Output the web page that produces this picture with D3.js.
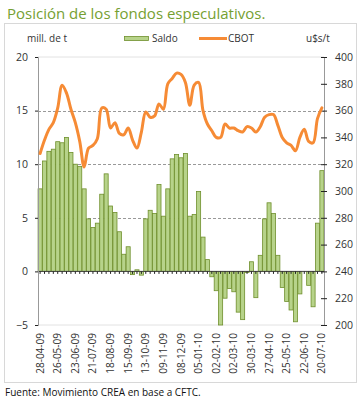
<!DOCTYPE html>
<html>
<head>
<meta charset="utf-8">
<script src="https://cdn.jsdelivr.net/npm/d3@7"></script>
<style>
  html, body { margin: 0; padding: 0; background: #fff; }
  svg { display: block; }
  text { font-family: "Open Sans", "DejaVu Sans", sans-serif; }
</style>
</head>
<body>
<svg id="chart" width="361" height="400"></svg>
<script>
const weeks = [
  "28-04-09","05-05-09","12-05-09","19-05-09","26-05-09","02-06-09","09-06-09","16-06-09",
  "23-06-09","30-06-09","07-07-09","14-07-09","21-07-09","28-07-09","04-08-09","11-08-09",
  "18-08-09","25-08-09","01-09-09","08-09-09","15-09-09","22-09-09","29-09-09","06-10-09",
  "13-10-09","20-10-09","27-10-09","03-11-09","09-11-09","17-11-09","24-11-09","01-12-09",
  "08-12-09","15-12-09","22-12-09","29-12-09","05-01-10","12-01-10","19-01-10","26-01-10",
  "02-02-10","09-02-10","16-02-10","23-02-10","02-03-10","09-03-10","16-03-10","23-03-10",
  "30-03-10","06-04-10","13-04-10","20-04-10","27-04-10","04-05-10","11-05-10","18-05-10",
  "25-05-10","01-06-10","08-06-10","15-06-10","22-06-10","29-06-10","06-07-10","13-07-10",
  "20-07-10"
];
const tickLabels = ["28-04-09","26-05-09","23-06-09","21-07-09","18-08-09","15-09-09","13-10-09",
  "09-11-09","08-12-09","05-01-10","02-02-10","02-03-10","30-03-10","27-04-10","25-05-10",
  "22-06-10","20-07-10"];
const saldo = [
  7.7, 10.3, 11.2, 11.4, 12.1, 12.0, 12.5, 11.1, 10.0, 9.8, 7.7, 4.9, 4.1, 4.5, 7.2, 9.1,
  6.1, 5.5, 3.7, 1.6, 2.3, -0.3, 0.15, -0.35, 4.9, 5.7, 5.4, 8.1, 5.15, 7.7, 10.5, 10.9,
  10.6, 11.0, 5.15, 5.3, 7.45, 3.2, 1.1, -0.5, -1.8, -5.0, -2.5, -1.6, -1.9, -3.8, -4.5,
  -0.1, 0.9, -2.45, 1.5, 4.9, 6.4, 5.4, 1.5, -1.5, -2.8, -3.6, -4.7, -2.1, 0, -1.3, -3.3,
  4.5, 9.4
];
const cbot = [
  328, 338, 346, 351, 362, 379, 373, 361, 351, 337, 318, 332, 334, 339, 362, 361,
  347, 351, 343, 342, 347, 338, 332, 344, 359, 355, 356, 365, 361, 380, 384, 388,
  387, 381, 364, 379, 381, 360, 350, 345, 340, 340, 350, 347, 347, 345, 344,
  348, 347, 344, 348, 355, 357, 357, 349, 340, 336, 334, 330, 340, 346, 337, 336,
  354, 362
];
const leftTicks = [20, 15, 10, 5, 0, -5];
const rightTicks = [400, 380, 360, 340, 320, 300, 280, 260, 240, 220, 200];
const gridValues = [15, 10, 5];

const svg = d3.select("#chart");
const L = 38, R = 324, T = 57, B = 325;

const x = d3.scaleBand().domain(weeks).range([L, R]).paddingInner(0.08).paddingOuter(0.02);
const yL = d3.scaleLinear().domain([-5, 20]).range([B, T]);
const yR = d3.scaleLinear().domain([200, 400]).range([B, T]);

// Title
svg.append("text").attr("x", 7).attr("y", 19)
  .attr("fill", "#76a032").attr("font-size", 15).attr("font-weight", 500)
  .text("Posición de los fondos especulativos.");

// Frame
svg.append("rect").attr("x", 4.5).attr("y", 23.5).attr("width", 352).attr("height", 359)
  .attr("fill", "none").attr("stroke", "#d8d8d8");

// top & bottom light lines
[20, -5].forEach(v => {
  svg.append("line").attr("x1", L).attr("x2", R).attr("y1", yL(v)).attr("y2", yL(v))
    .attr("stroke", "#e2e2e2");
});
// dashed gridlines
svg.append("g").selectAll("line").data(gridValues).join("line")
  .attr("x1", L).attr("x2", R).attr("y1", d => Math.round(yL(d)) + 0.5).attr("y2", d => Math.round(yL(d)) + 0.5)
  .attr("stroke", "#999").attr("stroke-dasharray", "3,2");

// Bars
svg.append("g").selectAll("rect").data(saldo).join("rect")
  .attr("x", (d, i) => x(weeks[i]))
  .attr("width", x.bandwidth())
  .attr("y", d => yL(Math.max(0, d)))
  .attr("height", d => Math.abs(yL(d) - yL(0)))
  .attr("fill", "#b7d38a").attr("stroke", "#6f8f2c").attr("stroke-width", 0.8);

// Zero axis with small ticks
svg.append("line").attr("x1", L).attr("x2", R).attr("y1", yL(0)).attr("y2", yL(0))
  .attr("stroke", "#444").attr("stroke-width", 1);
svg.append("g").selectAll("line").data(weeks).join("line")
  .attr("x1", d => x(d) + x.bandwidth() / 2).attr("x2", d => x(d) + x.bandwidth() / 2)
  .attr("y1", yL(0)).attr("y2", yL(0) + 2.5).attr("stroke", "#222");

// Left axis
const gL = svg.append("g").attr("transform", `translate(${L},0)`)
  .call(d3.axisLeft(yL).tickValues(leftTicks).tickSize(3).tickPadding(7).tickFormat(d3.format("d")));
gL.select(".domain").attr("stroke", "#999");
gL.selectAll(".tick line").attr("stroke", "#222");
gL.selectAll("text").attr("font-size", 10.5).attr("fill", "#333")
  .attr("font-family", "'Open Sans', sans-serif");

// Right axis
const gR = svg.append("g").attr("transform", `translate(${R},0)`)
  .call(d3.axisRight(yR).tickValues(rightTicks).tickSize(3).tickPadding(8));
gR.select(".domain").attr("stroke", "#999");
gR.selectAll(".tick line").attr("stroke", "#222").attr("x1", -3);
gR.selectAll("text").attr("font-size", 10.5).attr("fill", "#333")
  .attr("font-family", "'Open Sans', sans-serif");

// CBOT line
const line = d3.line()
  .x((d, i) => x(weeks[i]) + x.bandwidth() / 2)
  .y(d => yR(d))
  .curve(d3.curveCatmullRom.alpha(0.5));
svg.append("path").datum(cbot).attr("d", line)
  .attr("fill", "none").attr("stroke", "#f68b35").attr("stroke-width", 3)
  .attr("stroke-linejoin", "round").attr("stroke-linecap", "round");

// X labels
svg.append("g").selectAll("text").data(tickLabels).join("text")
  .attr("transform", d => `translate(${x(d) + x.bandwidth() / 2 + 3.5},333) rotate(-90)`)
  .attr("text-anchor", "end").attr("font-size", 10).attr("fill", "#333")
  .text(d => d);

// Legend & axis titles
svg.append("text").attr("x", 27).attr("y", 42).attr("font-size", 10).attr("fill", "#333").text("mill. de t");
svg.append("rect").attr("x", 124.5).attr("y", 36.5).attr("width", 24).attr("height", 4)
  .attr("fill", "#b7d38a").attr("stroke", "#6f8f2c").attr("stroke-width", 0.8);
svg.append("text").attr("x", 152).attr("y", 42).attr("font-size", 10).attr("fill", "#333").text("Saldo");
svg.append("line").attr("x1", 199).attr("x2", 227).attr("y1", 38.5).attr("y2", 38.5)
  .attr("stroke", "#f68b35").attr("stroke-width", 3);
svg.append("text").attr("x", 228).attr("y", 42).attr("font-size", 10).attr("fill", "#333").text("CBOT");
svg.append("text").attr("x", 306).attr("y", 42).attr("font-size", 10).attr("fill", "#333").text("u$s/t");

// Source
svg.append("text").attr("x", 5).attr("y", 396).attr("font-size", 10).attr("fill", "#111")
  .text("Fuente: Movimiento CREA en base a CFTC.");
</script>
</body>
</html>
